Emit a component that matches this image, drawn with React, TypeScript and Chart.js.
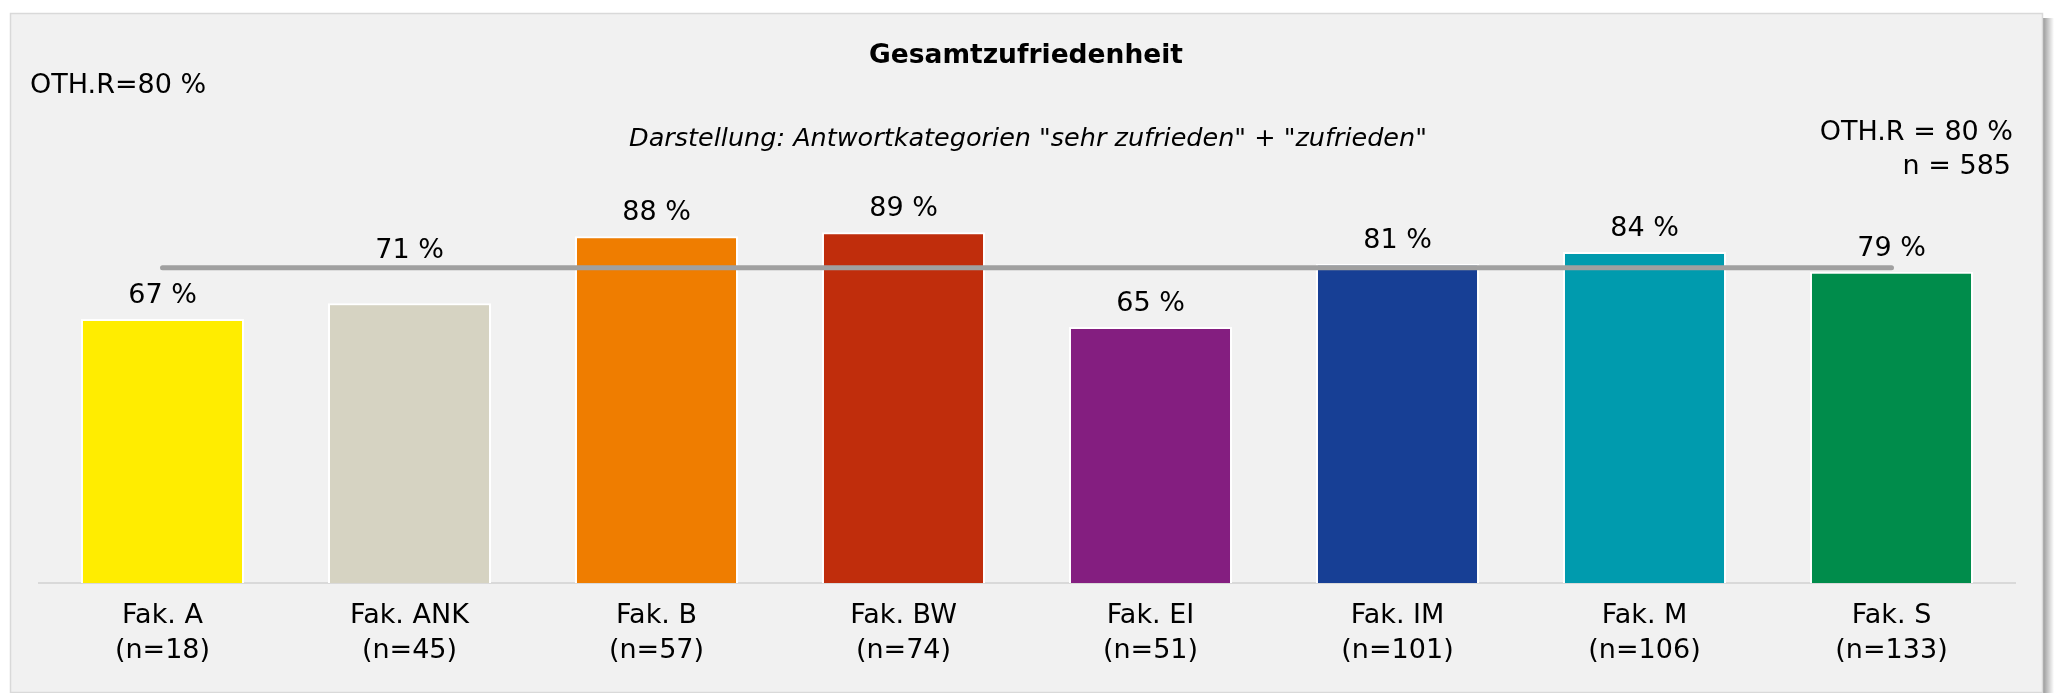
import React, { useEffect, useRef } from "react";
import { Chart, registerables } from "chart.js";

Chart.register(...registerables);

const categories = ["Fak. A", "Fak. ANK", "Fak. B", "Fak. BW", "Fak. EI", "Fak. IM", "Fak. M", "Fak. S"];
const sampleSizes = ["(n=18)", "(n=45)", "(n=57)", "(n=74)", "(n=51)", "(n=101)", "(n=106)", "(n=133)"];
const satisfaction = [67, 71, 88, 89, 65, 81, 84, 79];
const barColors = ["#ffed00", "#d6d3c2", "#ef7d00", "#c02d0c", "#841e80", "#173f95", "#009bae", "#008c4b"];
const overallRate = 80;
const overallN = 585;
const titleText = "Gesamtzufriedenheit";
const subtitleText = 'Darstellung: Antwortkategorien "sehr zufrieden" + "zufrieden"';

const FONT = "'DejaVu Sans', sans-serif";

const framePlugin = {
  id: "frame",
  beforeDraw(chart: any) {
    const ctx = chart.ctx;
    ctx.save();
    ctx.fillStyle = "#ffffff";
    ctx.fillRect(0, 0, chart.width, chart.height);
    const g = ctx.createLinearGradient(2043, 0, 2054, 0);
    g.addColorStop(0, "rgba(0,0,0,0.40)");
    g.addColorStop(1, "rgba(0,0,0,0)");
    ctx.fillStyle = g;
    ctx.fillRect(2043, 18, 11, chart.height - 18);
    ctx.fillStyle = "#f1f1f1";
    ctx.fillRect(10, 13, 2033, 680);
    ctx.strokeStyle = "#d9d9d9";
    ctx.lineWidth = 1.5;
    ctx.strokeRect(10.5, 13.5, 2032, 679);
    ctx.restore();
  },
  afterDraw(chart: any) {
    const ctx = chart.ctx;
    ctx.save();
    ctx.fillStyle = "#000";
    ctx.textBaseline = "alphabetic";
    ctx.textAlign = "center";
    ctx.font = `bold 26.5px ${FONT}`;
    ctx.fillText(titleText, 1026, 63);
    ctx.font = `italic 25.5px ${FONT}`;
    ctx.fillText(subtitleText, 1028, 146);
    ctx.font = `27px ${FONT}`;
    ctx.textAlign = "left";
    ctx.fillText(`OTH.R=${overallRate} %`, 30, 93);
    ctx.textAlign = "right";
    ctx.fillText(`OTH.R = ${overallRate} %`, 2013, 140);
    ctx.fillText(`n = ${overallN}`, 2011, 174);
    ctx.restore();
  },
};

const valueLabelPlugin = {
  id: "valueLabels",
  afterDatasetsDraw(chart: any) {
    const ctx = chart.ctx;
    const meta = chart.getDatasetMeta(0);
    const lineY = chart.scales.y.getPixelForValue(overallRate);
    ctx.save();
    ctx.fillStyle = "#000";
    ctx.font = `27px ${FONT}`;
    ctx.textAlign = "center";
    ctx.textBaseline = "alphabetic";
    meta.data.forEach((el: any, i: number) => {
      let b = el.y - 16;
      // keep the label clear of the reference line
      const top = b - 22;
      const bottom = b + 2;
      if (bottom > lineY - 10 && top < lineY + 10) {
        b = lineY - 10;
      }
      ctx.fillText(`${satisfaction[i]} %`, el.x, b);
    });
    ctx.restore();
  },
};

export default function App() {
  const ref = useRef<HTMLCanvasElement | null>(null);
  useEffect(() => {
    if (!ref.current) return;
    const chart = new Chart(ref.current, {
      type: "bar",
      data: {
        labels: categories.map((c, i) => [c, sampleSizes[i]]),
        datasets: [
          {
            type: "bar",
            data: satisfaction,
            backgroundColor: barColors,
            borderColor: "#ffffff",
            borderWidth: 2,
            borderSkipped: "start",
            barPercentage: 0.66,
            categoryPercentage: 1,
            order: 1,
          } as any,
          {
            type: "line",
            data: categories.map(() => overallRate),
            borderColor: "#a0a0a0",
            borderWidth: 5,
            borderCapStyle: "round",
            pointRadius: 0,
            fill: false,
            order: 0,
          } as any,
        ],
      },
      options: {
        responsive: false,
        animation: false,
        devicePixelRatio: 1,
        layout: { padding: { left: 39, right: 42, top: 189, bottom: 9 } },
        plugins: { legend: { display: false }, tooltip: { enabled: false }, title: { display: false } },
        scales: {
          x: {
            offset: true,
            grid: { display: false, drawTicks: false },
            border: { display: true, color: "#d9d9d9", width: 2 },
            ticks: {
              color: "#000",
              padding: 15.5,
              font: { family: FONT, size: 27, lineHeight: 35 / 27 },
              maxRotation: 0,
              autoSkip: false,
            },
          },
          y: { display: false, min: 0, max: 100 },
        },
      },
      plugins: [framePlugin, valueLabelPlugin],
    });
    return () => chart.destroy();
  }, []);
  return (
    <div style={{ position: "fixed", left: 0, top: 0, width: 2057, height: 693 }}>
      <canvas ref={ref} width={2057} height={693} style={{ display: "block" }} />
    </div>
  );
}
